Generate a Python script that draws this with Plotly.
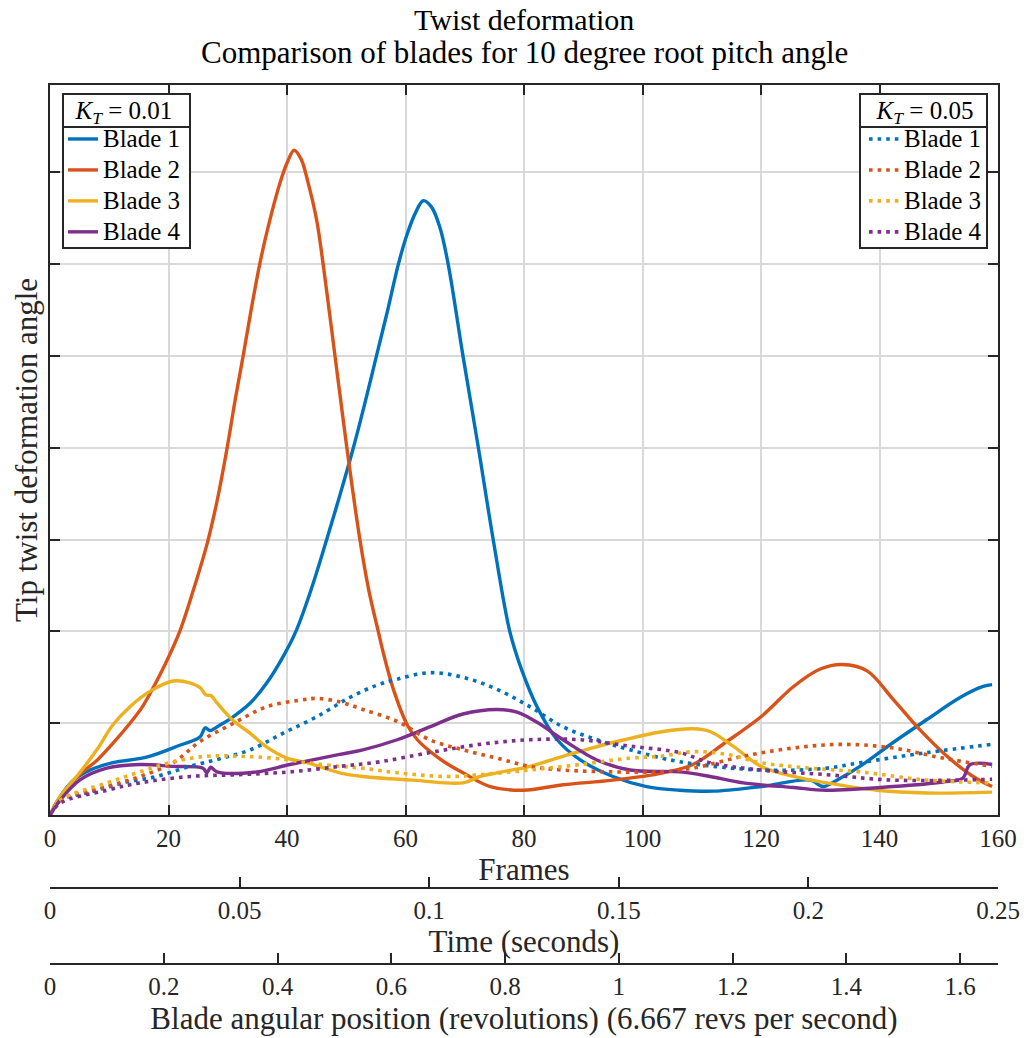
import plotly.graph_objects as go

# ---------------- data (frames, tip twist) ----------------
b1_kt01_f = [0, 1.7, 4, 6.8, 10.6, 16.3, 21.9, 25.3, 26.2, 27, 28.7, 30.9, 33.8, 36.6, 39.3, 41.5, 44.2,
             46.7, 49, 51.2, 53.2, 55.1, 57, 58.8, 60.3, 61.7, 63, 64.4, 65.8, 67.2, 69.7, 72.3, 74.8,
             77.6, 79.5, 82.2, 85.6, 89.5, 95, 100.7, 106.3, 112, 120, 128.3, 130.5, 132.8, 136.7, 142.3,
             148, 153.6, 157.5, 159]
b1_kt01_v = [0, 0.2, 0.38, 0.49, 0.57, 0.63, 0.76, 0.85, 0.95, 0.92, 0.98, 1.07, 1.22, 1.44, 1.72, 2.0, 2.48,
             3.0, 3.5, 4.0, 4.5, 5.0, 5.5, 6.0, 6.33, 6.56, 6.69, 6.62, 6.4, 6.0, 5.0, 4.0, 3.0, 2.0, 1.6,
             1.18, 0.82, 0.60, 0.42, 0.31, 0.27, 0.26, 0.31, 0.38, 0.31, 0.38, 0.53, 0.79, 1.04, 1.28, 1.40,
             1.42]

b2_kt01_f = [0, 2, 5, 8, 10.6, 13.5, 15.5, 17.2, 19.5, 21.9, 24.2, 26.5, 28.2, 29.9, 31.2, 32.6, 34, 35.4,
             36.8, 38.8, 40, 41.2, 42.4, 43.5, 45, 46.1, 48.1, 50.1, 52.3, 53.8, 55.4, 56.2, 58, 60.3, 62,
             64, 66.5, 69.7, 74.3, 79.9, 86.6, 95, 103.5, 108.5, 114, 120, 125.5, 130, 133.7, 137.9, 142.3,
             146.8, 151.4, 155.8, 159]
b2_kt01_v = [0, 0.22, 0.44, 0.6, 0.78, 1.0, 1.17, 1.36, 1.65, 2.0, 2.45, 2.95, 3.42, 4.0, 4.5, 5.0, 5.52, 6.0,
             6.4, 6.88, 7.1, 7.24, 7.14, 6.9, 6.48, 6.0, 5.0, 4.0, 3.0, 2.45, 2.0, 1.78, 1.36, 0.98, 0.82,
             0.7, 0.58, 0.46, 0.31, 0.27, 0.33, 0.38, 0.46, 0.55, 0.79, 1.07, 1.40, 1.59, 1.64, 1.57, 1.26,
             0.93, 0.64, 0.42, 0.31]

b3_kt01_f = [0, 1.7, 5, 7.9, 10.6, 13.5, 17.2, 20.8, 23.6, 25.3, 26.3, 27.2, 28.2, 30.9, 33.8, 36.6, 40,
             43.4, 48.9, 52.8, 61.3, 69.7, 72.6, 75.4, 81, 86.6, 95, 103.5, 108.5, 111.4, 115.3, 120,
             125.5, 131.1, 139.6, 148, 159]
b3_kt01_v = [0, 0.2, 0.46, 0.71, 0.98, 1.18, 1.36, 1.46, 1.44, 1.39, 1.31, 1.30, 1.22, 1.03, 0.89, 0.74, 0.62,
             0.57, 0.46, 0.42, 0.38, 0.35, 0.42, 0.46, 0.53, 0.64, 0.79, 0.91, 0.94, 0.91, 0.75, 0.53, 0.42,
             0.35, 0.27, 0.24, 0.25]

b4_kt01_f = [0, 1.7, 5, 9.6, 15.2, 20.8, 25.8, 26.5, 27.1, 28.2, 34.9, 40.5, 48.9, 52.8, 58.6, 64.1, 69.7,
             75.4, 78.8, 82.2, 86.6, 92.3, 97.9, 106.3, 111.4, 117, 125.5, 131, 142.3, 150.7, 154, 155.3,
             159]
b4_kt01_v = [0, 0.16, 0.38, 0.51, 0.55, 0.53, 0.51, 0.46, 0.52, 0.47, 0.47, 0.55, 0.66, 0.71, 0.82, 0.96,
             1.10, 1.15, 1.12, 1.01, 0.82, 0.60, 0.49, 0.47, 0.42, 0.35, 0.30, 0.27, 0.31, 0.36, 0.40,
             0.55, 0.55]

b1_kt05_f = [0, 1.7, 6.8, 12.3, 18, 23.6, 28.5, 33.8, 39.3, 45, 50.6, 55, 58.6, 64.1, 69.7, 75.4, 81, 86.6,
             92.3, 97.9, 106.3, 120, 131, 136.7, 148, 159]
b1_kt05_v = [0, 0.16, 0.25, 0.35, 0.42, 0.53, 0.61, 0.71, 0.89, 1.07, 1.28, 1.41, 1.48, 1.55, 1.50, 1.37,
             1.18, 0.96, 0.82, 0.71, 0.58, 0.49, 0.51, 0.57, 0.68, 0.77]

b2_kt05_f = [0, 1.7, 9.6, 15.2, 20.8, 25.3, 31, 36.6, 42.2, 45, 49, 52.8, 58.6, 64.1, 69.7, 75.4, 81, 86.6,
             95, 103, 108.5, 117, 125.5, 133.8, 142.3, 150.7, 159]
b2_kt05_v = [0, 0.16, 0.31, 0.42, 0.57, 0.80, 1.0, 1.18, 1.25, 1.27, 1.23, 1.15, 1.02, 0.82, 0.71, 0.62, 0.53,
             0.49, 0.47, 0.47, 0.51, 0.64, 0.73, 0.77, 0.73, 0.62, 0.53]

b3_kt05_f = [0, 1.7, 9.6, 15.2, 20.8, 26.5, 32, 37.6, 43.4, 48.9, 52.8, 58.6, 67, 72.6, 81, 89.5, 97.9,
             103, 108.5, 114.3, 120, 128.3, 136.7, 148, 159]
b3_kt05_v = [0, 0.16, 0.35, 0.47, 0.58, 0.64, 0.64, 0.62, 0.57, 0.53, 0.51, 0.46, 0.42, 0.44, 0.49, 0.55,
             0.62, 0.64, 0.69, 0.66, 0.57, 0.51, 0.47, 0.38, 0.35]

b4_kt05_f = [0, 1.7, 9.6, 15.2, 23.6, 32, 40.5, 48.9, 55.7, 64.1, 72.6, 81, 89.5, 97.9, 106.3, 111.4, 120,
             131, 142.3, 159]
b4_kt05_v = [0, 0.13, 0.27, 0.35, 0.42, 0.44, 0.47, 0.53, 0.58, 0.68, 0.77, 0.82, 0.82, 0.75, 0.68, 0.57,
             0.49, 0.44, 0.38, 0.39]

blade_names = ["Blade 1", "Blade 2", "Blade 3", "Blade 4"]

frame_ticks = [0, 20, 40, 60, 80, 100, 120, 140, 160]
time_ticks = [0, 0.05, 0.1, 0.15, 0.2, 0.25]
time_labels = ["0", "0.05", "0.1", "0.15", "0.2", "0.25"]
rev_ticks = [0, 0.2, 0.4, 0.6, 0.8, 1.0, 1.2, 1.4, 1.6]
rev_labels = ["0", "0.2", "0.4", "0.6", "0.8", "1", "1.2", "1.4", "1.6"]
frames_per_second = 640
revs_per_second = 6.667

# ---------------- style ----------------
colors = ["#0072BD", "#D95319", "#EDB120", "#7E2F8E"]
FONT = "Liberation Serif"
AX = "#262626"
GRID = "#d9d9d9"

fig = go.Figure()

solid = [(b1_kt01_f, b1_kt01_v), (b2_kt01_f, b2_kt01_v), (b3_kt01_f, b3_kt01_v), (b4_kt01_f, b4_kt01_v)]
dotted = [(b1_kt05_f, b1_kt05_v), (b2_kt05_f, b2_kt05_v), (b3_kt05_f, b3_kt05_v), (b4_kt05_f, b4_kt05_v)]

for i, (fx, fy) in enumerate(solid):
    fig.add_trace(go.Scatter(x=fx, y=fy, mode="lines",
                             name='<span style="font-size:25px">%s</span>' % blade_names[i],
                             line=dict(color=colors[i], width=3.4, shape="spline", smoothing=1.0),
                             legend="legend", hoverinfo="skip"))
for i, (fx, fy) in enumerate(dotted):
    fig.add_trace(go.Scatter(x=fx, y=fy, mode="lines",
                             name='<span style="font-size:25px">%s</span>' % blade_names[i],
                             line=dict(color=colors[i], width=3.6, dash="3.6px,5px", shape="spline",
                                       smoothing=1.0),
                             legend="legend2", hoverinfo="skip"))

# invisible carriers for the secondary x axes
max_frame = frame_ticks[-1]
fig.add_trace(go.Scatter(x=[0, max_frame / frames_per_second], y=[None, None], xaxis="x2", yaxis="y",
                         showlegend=False, hoverinfo="skip", mode="lines"))
fig.add_trace(go.Scatter(x=[0, max_frame / frames_per_second * revs_per_second], y=[None, None], xaxis="x3",
                         yaxis="y", showlegend=False, hoverinfo="skip", mode="lines"))

tickfont = dict(family=FONT, size=25, color=AX)
titlefont = dict(family=FONT, size=31, color=AX)

common_x = dict(showline=True, linewidth=2, linecolor=AX, ticks="inside", ticklen=10, tickwidth=2,
                tickcolor=AX, tickfont=tickfont, zeroline=False, automargin=False)

fig.update_layout(
    template="none",
    width=1026, height=1038,
    margin=dict(l=50, r=28, t=85, b=40, autoexpand=False),
    paper_bgcolor="white", plot_bgcolor="white",
    showlegend=True,
    xaxis=dict(domain=[0, 1], range=[0, max_frame], tickvals=frame_ticks, mirror="ticks", showgrid=True,
               gridcolor=GRID, gridwidth=2, anchor="y",
               title=dict(text="Frames", font=titlefont, standoff=0), **common_x),
    xaxis2=dict(overlaying="x", anchor="free", position=0.1205, side="bottom",
                range=[0, max_frame / frames_per_second], tickvals=time_ticks, ticktext=time_labels,
                showgrid=False, title=dict(text="Time (seconds)", font=titlefont, standoff=6), **common_x),
    xaxis3=dict(overlaying="x", anchor="free", position=0.0372, side="bottom",
                range=[0, max_frame / frames_per_second * revs_per_second], tickvals=rev_ticks,
                ticktext=rev_labels, showgrid=False,
                title=dict(text="Blade angular position (revolutions) (6.667 revs per second)",
                           font=titlefont, standoff=7), **common_x),
    yaxis=dict(domain=[0.2004, 1], range=[0, 7.95], dtick=1, showticklabels=False, showline=True, linewidth=2,
               linecolor=AX, mirror="ticks", ticks="inside", ticklen=10, tickwidth=2, tickcolor=AX,
               showgrid=True, gridcolor=GRID, gridwidth=2, zeroline=False, automargin=False,
               title=dict(text="Tip twist deformation angle", font=titlefont, standoff=1)),
    legend=dict(x=0.0137, y=0.9989, xanchor="left", yanchor="top", bgcolor="rgba(0,0,0,0)", borderwidth=0,
                font=dict(family=FONT, size=21.5, color="black"), tracegroupgap=0,
                title=dict(text="<i>K</i><sub><i>T</i></sub> = 0.01", side="top center",
                           font=dict(family=FONT, size=25, color="black"))),
    legend2=dict(x=0.9884, y=0.9989, xanchor="right", yanchor="top", bgcolor="rgba(0,0,0,0)", borderwidth=0,
                 font=dict(family=FONT, size=21.5, color="black"), tracegroupgap=0,
                 title=dict(text="<i>K</i><sub><i>T</i></sub> = 0.05", side="top center",
                            font=dict(family=FONT, size=25, color="black"))),
    annotations=[
        dict(text="Twist deformation", x=0.5, y=1.0920, xref="paper", yref="paper", showarrow=False,
             xanchor="center", yanchor="top", font=dict(family=FONT, size=30, color="black")),
        dict(text="Comparison of blades for 10 degree root pitch angle", x=0.5, y=1.0361, xref="paper",
             yref="paper", showarrow=False, xanchor="center", yanchor="middle",
             font=dict(family=FONT, size=31, color="black")),
    ],
)

# legend boxes (MATLAB-style title box + separator)
def px_x(p):
    return (p - 50) / 948.0

def px_y(p):
    return 1 - (p - 85) / 913.0

shapes = []
for (x0, x1) in [(63, 190), (860, 987)]:
    shapes.append(dict(type="rect", xref="paper", yref="paper", x0=px_x(x0), x1=px_x(x1), y0=px_y(248),
                       y1=px_y(94), fillcolor="white", line=dict(color=AX, width=2), layer="above"))
    shapes.append(dict(type="line", xref="paper", yref="paper", x0=px_x(x0), x1=px_x(x1), y0=px_y(127),
                       y1=px_y(127), line=dict(color=AX, width=2), layer="above"))
fig.update_layout(shapes=shapes)

fig.write_html("out.html", config={"displayModeBar": False},
               post_script="document.body.style.margin='0px';")
